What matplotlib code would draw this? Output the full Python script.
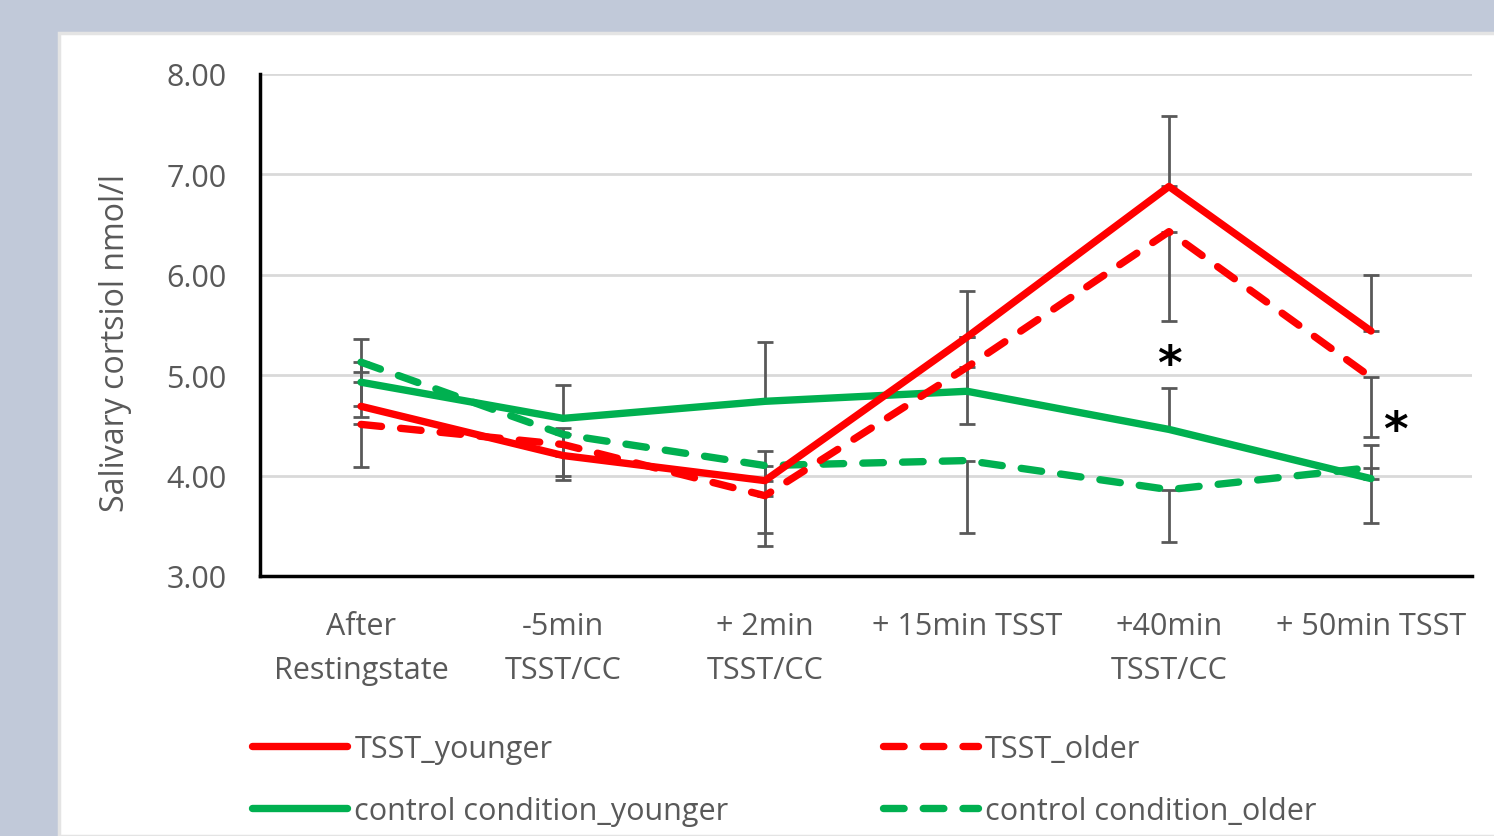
import matplotlib
import matplotlib.pyplot as plt
from matplotlib.patches import Rectangle

matplotlib.use("Agg")

categories = ["After\nRestingstate", "-5min\nTSST/CC", "+ 2min\nTSST/CC",
              "+ 15min TSST", "+40min\nTSST/CC", "+ 50min TSST"]

tsst_younger = [4.69, 4.20, 3.95, 5.38, 6.88, 5.44]
tsst_older = [4.51, 4.31, 3.80, 5.08, 6.43, 4.98]
cc_younger = [4.93, 4.57, 4.74, 4.84, 4.46, 3.97]
cc_older = [5.13, 4.41, 4.10, 4.15, 3.86, 4.08]

# one-sided error bars (younger: plus, older: minus)
tsst_younger_err = [0.34, 0.27, 0.30, 0.46, 0.70, 0.56]
tsst_older_err = [0.42, 0.35, 0.50, 0.57, 0.89, 0.60]
cc_younger_err = [0.43, 0.33, 0.59, 0.54, 0.41, 0.33]
cc_older_err = [0.55, 0.41, 0.67, 0.72, 0.52, 0.55]

# significance markers: (x index, y value)
stars = [(4, 5.10), (5.12, 4.44)]

plt.rcParams['font.family'] = ['Open Sans', 'DejaVu Sans']
plt.rcParams['lines.solid_capstyle'] = 'round'
plt.rcParams['lines.dash_capstyle'] = 'round'

RED = '#ff0000'
GREEN = '#00b050'
GRAY = '#595959'

fig = plt.figure(figsize=(14.94, 8.37), dpi=100)
fig.patch.set_facecolor('#c1c9d9')
panel = Rectangle((59 / 1494, 0), 1, 1 - 34 / 837, transform=fig.transFigure,
                  facecolor='white', edgecolor='#e4e4e4', linewidth=2.5, zorder=-10)
fig.patches.append(panel)

ax = fig.add_axes([260 / 1494, 1 - 577 / 837, (1472 - 260) / 1494, (577 - 75) / 837])
ax.set_facecolor('none')
x = list(range(len(categories)))

zero = [0] * len(x)
err_kw = dict(fmt='none', ecolor=GRAY, elinewidth=2, capsize=6, capthick=2, zorder=2)
ax.errorbar(x, tsst_younger, yerr=[zero, tsst_younger_err], **err_kw)
ax.errorbar(x, tsst_older, yerr=[tsst_older_err, zero], **err_kw)
ax.errorbar(x, cc_younger, yerr=[zero, cc_younger_err], **err_kw)
ax.errorbar(x, cc_older, yerr=[cc_older_err, zero], **err_kw)

dash = (2.8, 2.6)
ax.plot(x, tsst_younger, color=RED, lw=5.3, label='TSST_younger', zorder=4)
ax.plot(x, tsst_older, color=RED, lw=5.3, dashes=dash, label='TSST_older', zorder=4)
ax.plot(x, cc_younger, color=GREEN, lw=5.3, label='control condition_younger', zorder=3)
ax.plot(x, cc_older, color=GREEN, lw=5.3, dashes=dash, label='control condition_older', zorder=3)

for sx, sy in stars:
    ax.text(sx, sy, '*', ha='center', va='center', fontsize=34, fontweight='bold',
            color='black', family='DejaVu Sans')

ax.set_xlim(-0.5, 5.5)
ax.set_ylim(3, 8)
ax.set_yticks([3, 4, 5, 6, 7, 8])
ax.set_yticklabels(["%.2f" % v for v in [3, 4, 5, 6, 7, 8]])
ax.set_xticks(x)
ax.set_xticklabels(categories)
for lab in ax.get_xticklabels():
    lab.set_linespacing(1.6)
ax.tick_params(axis='both', length=0, labelsize=22, colors=GRAY)
ax.tick_params(axis='x', pad=25)
ax.tick_params(axis='y', pad=24)
ax.grid(axis='y', color='#d9d9d9', lw=2)
ax.set_axisbelow(True)
for s in ['top', 'right']:
    ax.spines[s].set_visible(False)
for s in ['left', 'bottom']:
    ax.spines[s].set_linewidth(2.5)
    ax.spines[s].set_color('black')
    ax.spines[s].set_zorder(5)

ax.set_ylabel("Salivary cortsiol nmol/l", fontsize=23, color=GRAY)
ax.yaxis.set_label_coords(-0.106, 0.466)

handles, labels = ax.get_legend_handles_labels()
order = [0, 2, 1, 3]
fig.legend([handles[i] for i in order], [labels[i] for i in order], ncol=2,
           loc='upper left', bbox_to_anchor=(252 / 1494, 1 - 735 / 837),
           frameon=False, fontsize=22, labelcolor=GRAY, handlelength=3.1,
           handletextpad=0.25, columnspacing=5.05, labelspacing=1.05,
           borderpad=0, borderaxespad=0)

plt.savefig('out.png', dpi=100, facecolor=fig.get_facecolor())
